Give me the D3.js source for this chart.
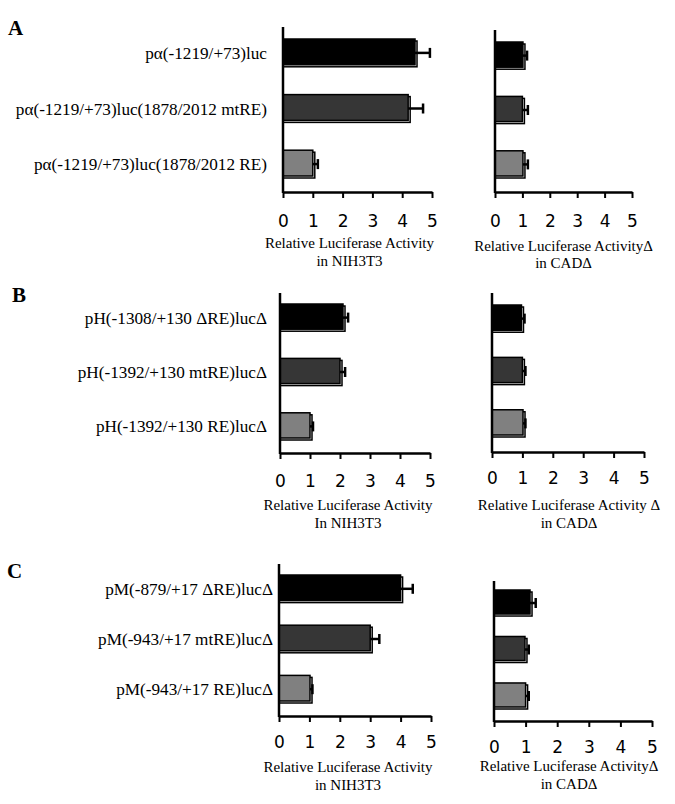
<!DOCTYPE html>
<html>
<head>
<meta charset="utf-8">
<script src="https://cdn.jsdelivr.net/npm/d3@7"></script>
<style>
  body { margin: 0; background: #fff; }
  svg { display: block; }
</style>
</head>
<body>
<div id="chart"></div>
<script>
// construct names per panel
const labelsA = ['pα(-1219/+73)luc', 'pα(-1219/+73)luc(1878/2012 mtRE)', 'pα(-1219/+73)luc(1878/2012 RE)'];
const labelsB = ['pH(-1308/+130 ΔRE)lucΔ', 'pH(-1392/+130 mtRE)lucΔ', 'pH(-1392/+130 RE)lucΔ'];
const labelsC = ['pM(-879/+17 ΔRE)lucΔ', 'pM(-943/+17 mtRE)lucΔ', 'pM(-943/+17 RE)lucΔ'];

// relative luciferase activity (mean, error)
const nihA = [4.43, 4.2, 1.0];
const nihAErr = [0.5, 0.5, 0.17];
const cadA = [1.02, 1.0, 1.02];
const cadAErr = [0.15, 0.2, 0.18];
const nihB = [2.1, 2.0, 1.0];
const nihBErr = [0.17, 0.17, 0.1];
const cadB = [0.97, 1.0, 1.02];
const cadBErr = [0.1, 0.1, 0.08];
const nihC = [4.0, 3.0, 1.02];
const nihCErr = [0.4, 0.3, 0.08];
const cadC = [1.14, 0.98, 1.0];
const cadCErr = [0.18, 0.12, 0.1];

const ticks = [0, 1, 2, 3, 4, 5];
const fills = ['#000000', '#363636', '#808080'];

const width = 675, height = 804;
const svg = d3.select('#chart').append('svg')
    .attr('width', width)
    .attr('height', height);

const serif = '"Liberation Serif", "Times New Roman", serif';
const sans = '"DejaVu Sans", Verdana, sans-serif';

// panel letters
[['A', 8, 35], ['B', 12, 302], ['C', 7, 578]].forEach(([t, x, y]) => {
    svg.append('text')
        .attr('x', x).attr('y', y)
        .attr('font-family', serif)
        .attr('font-weight', 'bold')
        .attr('font-size', 21)
        .text(t);
});

const panels = [
    { labels: labelsA, values: nihA, errs: nihAErr, x0: 283, x5: 432, axisTop: 27, axisBottom: 192, bands: [39, 178], pad: 0.5, labelGap: 16, tickPad: 17, title: ['Relative Luciferase Activity', 'in NIH3T3'], titleY: [248, 266], titleDx: -8 },
    { values: cadA, errs: cadAErr, x0: 495, x5: 632, axisTop: 30, axisBottom: 192, bands: [42, 178], pad: 0.5, tickPad: 17, title: ['Relative Luciferase ActivityΔ', 'in CADΔ'], titleY: [251, 268], titleDx: 0 },
    { labels: labelsB, values: nihB, errs: nihBErr, x0: 280, x5: 430, axisTop: 293, axisBottom: 453, bands: [304, 440], pad: 0.5, labelGap: 13, tickPad: 16, title: ['Relative Luciferase Activity', 'In NIH3T3'], titleY: [510, 528], titleDx: -7 },
    { values: cadB, errs: cadBErr, x0: 492, x5: 644, axisTop: 293, axisBottom: 452, bands: [305, 437], pad: 0.48, tickPad: 14, title: ['Relative Luciferase Activity Δ', 'in CADΔ'], titleY: [510, 528], titleDx: 1 },
    { labels: labelsC, values: nihC, errs: nihCErr, x0: 279, x5: 431, axisTop: 564, axisBottom: 716, bands: [575, 703], pad: 0.45, labelGap: 6, tickPad: 14, title: ['Relative Luciferase Activity', 'in NIH3T3'], titleY: [772, 790], titleDx: -7 },
    { values: cadC, errs: cadCErr, x0: 494, x5: 652, axisTop: 581, axisBottom: 721, bands: [590, 709], pad: 0.44, tickPad: 14, title: ['Relative Luciferase ActivityΔ', 'in CADΔ'], titleY: [771, 789], titleDx: -4 }
];

panels.forEach(p => {
    const g = svg.append('g');
    const idx = d3.range(p.values.length);

    const x = d3.scaleLinear().domain([0, 5]).range([p.x0, p.x5]);
    const y = d3.scaleBand()
        .domain(idx)
        .range(p.bands)
        .paddingInner(p.pad)
        .paddingOuter(0);
    const bw = y.bandwidth();

    // offset outline behind each bar
    g.selectAll('rect.shadow')
        .data(idx)
        .join('rect')
        .attr('class', 'shadow')
        .attr('x', x(0))
        .attr('y', i => y(i) + 2)
        .attr('width', i => x(p.values[i]) - x(0) + 2)
        .attr('height', bw - 2)
        .attr('fill', '#fff')
        .attr('stroke', '#000')
        .attr('stroke-width', 1.5);

    g.selectAll('rect.bar')
        .data(idx)
        .join('rect')
        .attr('class', 'bar')
        .attr('x', x(0))
        .attr('y', i => y(i))
        .attr('width', i => x(p.values[i]) - x(0))
        .attr('height', bw - 2)
        .attr('fill', i => fills[i])
        .attr('stroke', '#000')
        .attr('stroke-width', 1.5);

    // error bars
    const eb = g.selectAll('g.err')
        .data(idx)
        .join('g')
        .attr('class', 'err')
        .attr('stroke', '#000')
        .attr('stroke-width', 2.5);
    eb.append('line')
        .attr('x1', i => x(p.values[i]))
        .attr('x2', i => x(p.values[i] + p.errs[i]))
        .attr('y1', i => y(i) + bw / 2)
        .attr('y2', i => y(i) + bw / 2);
    eb.append('line')
        .attr('x1', i => x(p.values[i] + p.errs[i]))
        .attr('x2', i => x(p.values[i] + p.errs[i]))
        .attr('y1', i => y(i) + bw / 2 - 5)
        .attr('y2', i => y(i) + bw / 2 + 5);

    // y axis line
    g.append('line')
        .attr('x1', x(0)).attr('x2', x(0))
        .attr('y1', p.axisTop).attr('y2', p.axisBottom + 1)
        .attr('stroke', '#000')
        .attr('stroke-width', 2.5);

    // x axis
    const xAxis = g.append('g')
        .attr('transform', `translate(0,${p.axisBottom})`)
        .call(d3.axisBottom(x).tickValues(ticks).tickFormat(d3.format('d'))
            .tickSize(6).tickSizeOuter(0).tickPadding(p.tickPad));
    xAxis.select('.domain').attr('stroke-width', 2.5);
    xAxis.selectAll('.tick line').attr('stroke-width', 2);
    xAxis.selectAll('.tick text')
        .attr('font-family', sans)
        .attr('font-size', 17)
        .attr('fill', '#000');

    // category labels
    if (p.labels) {
        g.selectAll('text.cat')
            .data(idx)
            .join('text')
            .attr('class', 'cat')
            .attr('x', x(0) - p.labelGap)
            .attr('y', i => y(i) + bw / 2)
            .attr('dy', '0.35em')
            .attr('text-anchor', 'end')
            .attr('font-family', serif)
            .attr('font-size', 17.2)
            .text(i => p.labels[i]);
    }

    // axis title
    const cx = (p.x0 + p.x5) / 2 + p.titleDx;
    p.title.forEach((t, k) => {
        g.append('text')
            .attr('x', cx)
            .attr('y', p.titleY[k])
            .attr('text-anchor', 'middle')
            .attr('font-family', serif)
            .attr('font-size', 15)
            .text(t);
    });
});
</script>
</body>
</html>
